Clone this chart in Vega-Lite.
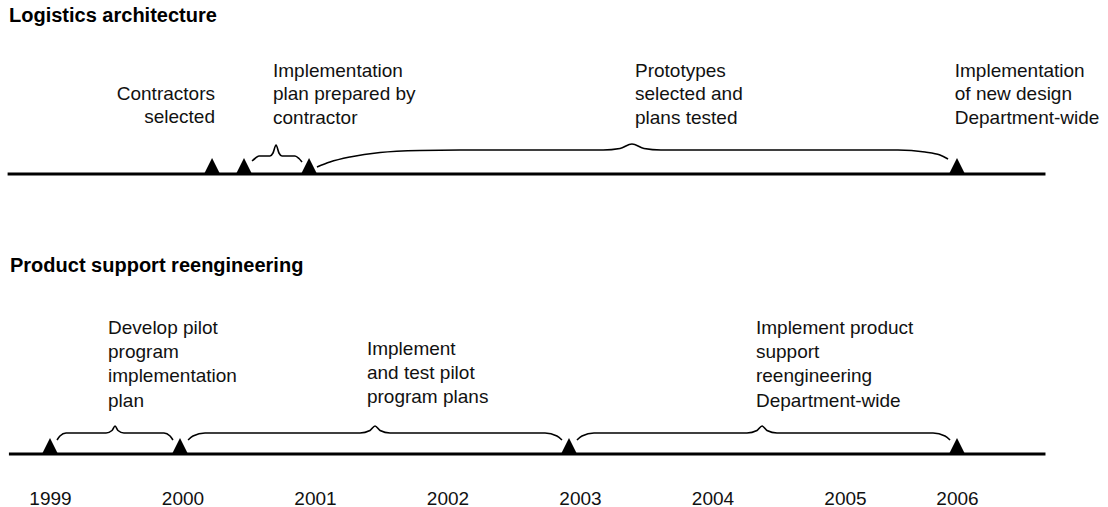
{
  "$schema": "https://vega.github.io/schema/vega-lite/v6.json",
  "padding": {"left": 0, "right": 0, "top": 6, "bottom": 0},
  "background": "white",
  "spacing": 76,
  "config": {"view": {"stroke": null}, "font": "Liberation Sans"},
  "resolve": {"scale": {"x": "independent", "y": "independent"}},
  "vconcat": [
    {
      "width": 1108,
      "height": 150,
      "title": {"text": "Logistics architecture", "anchor": "start", "dx": 9, "fontSize": 20, "fontWeight": "bold", "font": "Liberation Sans", "color": "black", "offset": 4},
      "layer": [
        {
          "data": {"values": [{"t0": 1998.68, "t1": 2006.79, "h": 0}]},
          "mark": {"type": "rule", "strokeWidth": 3, "color": "black"},
          "encoding": {
            "x": {"field": "t0", "type": "quantitative", "scale": {"type": "linear", "domain": [1999, 2005, 2006], "range": [50, 845, 957], "zero": false, "nice": false}, "axis": null},
            "x2": {"field": "t1"},
            "y": {"field": "h", "type": "quantitative", "scale": {"domain": [-6, 144], "nice": false, "zero": false}, "axis": null}
          }
        },
        {
          "data": {"values": [
            {"brace": "A", "t": 2000.525, "h": 13}, {"brace": "A", "t": 2000.547, "h": 15.5}, {"brace": "A", "t": 2000.577, "h": 18}, {"brace": "A", "t": 2000.660, "h": 18}, {"brace": "A", "t": 2000.683, "h": 21}, {"brace": "A", "t": 2000.706, "h": 29}, {"brace": "A", "t": 2000.728, "h": 21}, {"brace": "A", "t": 2000.751, "h": 18}, {"brace": "A", "t": 2000.849, "h": 18}, {"brace": "A", "t": 2000.879, "h": 15.5}, {"brace": "A", "t": 2000.902, "h": 12},
            {"brace": "B", "t": 2001.015, "h": 7}, {"brace": "B", "t": 2001.113, "h": 12}, {"brace": "B", "t": 2001.264, "h": 17}, {"brace": "B", "t": 2001.491, "h": 21.5}, {"brace": "B", "t": 2001.792, "h": 23.5}, {"brace": "B", "t": 2002.094, "h": 24}, {"brace": "B", "t": 2003.174, "h": 24}, {"brace": "B", "t": 2003.302, "h": 25.5}, {"brace": "B", "t": 2003.392, "h": 30}, {"brace": "B", "t": 2003.483, "h": 25.5}, {"brace": "B", "t": 2003.611, "h": 24}, {"brace": "B", "t": 2005.473, "h": 24}, {"brace": "B", "t": 2005.714, "h": 22}, {"brace": "B", "t": 2005.848, "h": 19}, {"brace": "B", "t": 2005.92, "h": 15}
          ]},
          "mark": {"type": "line", "interpolate": "monotone", "strokeWidth": 1.6, "color": "black"},
          "encoding": {
            "x": {"field": "t", "type": "quantitative", "axis": null},
            "y": {"field": "h", "type": "quantitative", "axis": null},
            "detail": {"field": "brace"}
          }
        },
        {
          "data": {"values": [{"t": 2000.223, "h": 0}, {"t": 2000.464, "h": 0}, {"t": 2000.955, "h": 0}, {"t": 2006.0, "h": 0}]},
          "mark": {"type": "point", "shape": "M0,-2L-1,0L1,0Z", "size": 256, "filled": true, "color": "black", "opacity": 1, "strokeWidth": 0},
          "encoding": {
            "x": {"field": "t", "type": "quantitative", "axis": null},
            "y": {"field": "h", "type": "quantitative", "axis": null}
          }
        },
        {
          "data": {"values": [
            {"t": 2000.683, "h": 93.2, "label": "Implementation\nplan prepared by\ncontractor"},
            {"t": 2003.415, "h": 93.2, "label": "Prototypes\nselected and\nplans tested"},
            {"t": 2005.98, "h": 93.2, "label": "Implementation\nof new design\nDepartment-wide"}
          ]},
          "mark": {"type": "text", "align": "left", "baseline": "bottom", "lineBreak": "\n", "lineHeight": 23.5, "fontSize": 19, "font": "Liberation Sans", "color": "#111"},
          "encoding": {
            "x": {"field": "t", "type": "quantitative", "axis": null},
            "y": {"field": "h", "type": "quantitative", "axis": null},
            "text": {"field": "label"}
          }
        },
        {
          "data": {"values": [{"t": 2000.245, "h": 70.2, "label": "Contractors\nselected"}]},
          "mark": {"type": "text", "align": "right", "baseline": "bottom", "lineBreak": "\n", "lineHeight": 23.5, "fontSize": 19, "font": "Liberation Sans", "color": "#111"},
          "encoding": {
            "x": {"field": "t", "type": "quantitative", "axis": null},
            "y": {"field": "h", "type": "quantitative", "axis": null},
            "text": {"field": "label"}
          }
        }
      ]
    },
    {
      "width": 1108,
      "height": 180,
      "title": {"text": "Product support reengineering", "anchor": "start", "dx": 10, "fontSize": 20, "fontWeight": "bold", "font": "Liberation Sans", "color": "black", "offset": 4},
      "layer": [
        {
          "data": {"values": [{"t0": 1998.69, "t1": 2006.79, "h": 0}]},
          "mark": {"type": "rule", "strokeWidth": 3, "color": "black"},
          "encoding": {
            "x": {"field": "t0", "type": "quantitative", "scale": {"type": "linear", "domain": [1999, 2005, 2006], "range": [50, 845, 957], "zero": false, "nice": false},
              "axis": {"values": [1999, 2000, 2001, 2002, 2003, 2004, 2005, 2006], "format": "d", "domain": false, "ticks": false, "tickSize": 0, "grid": false, "labelFontSize": 19, "labelFont": "Liberation Sans", "labelColor": "#111", "labelPadding": 29, "labelFlush": false, "labelOverlap": false, "title": null}},
            "x2": {"field": "t1"},
            "y": {"field": "h", "type": "quantitative", "scale": {"domain": [-6, 174], "nice": false, "zero": false}, "axis": null}
          }
        },
        {
          "data": {"values": [
            {"brace": "C", "t": 1999.053, "h": 14}, {"brace": "C", "t": 1999.075, "h": 18}, {"brace": "C", "t": 1999.121, "h": 21}, {"brace": "C", "t": 1999.423, "h": 21}, {"brace": "C", "t": 1999.468, "h": 23.5}, {"brace": "C", "t": 1999.491, "h": 28}, {"brace": "C", "t": 1999.513, "h": 23.5}, {"brace": "C", "t": 1999.558, "h": 21}, {"brace": "C", "t": 1999.860, "h": 21}, {"brace": "C", "t": 1999.906, "h": 18}, {"brace": "C", "t": 1999.928, "h": 14},
            {"brace": "D", "t": 2000.042, "h": 14}, {"brace": "D", "t": 2000.079, "h": 18}, {"brace": "D", "t": 2000.170, "h": 21}, {"brace": "D", "t": 2001.340, "h": 21}, {"brace": "D", "t": 2001.415, "h": 23.5}, {"brace": "D", "t": 2001.453, "h": 28}, {"brace": "D", "t": 2001.491, "h": 23.5}, {"brace": "D", "t": 2001.566, "h": 21}, {"brace": "D", "t": 2002.736, "h": 21}, {"brace": "D", "t": 2002.826, "h": 18}, {"brace": "D", "t": 2002.864, "h": 14},
            {"brace": "E", "t": 2002.977, "h": 14}, {"brace": "E", "t": 2003.015, "h": 18}, {"brace": "E", "t": 2003.106, "h": 21}, {"brace": "E", "t": 2004.260, "h": 21}, {"brace": "E", "t": 2004.336, "h": 23.5}, {"brace": "E", "t": 2004.374, "h": 28}, {"brace": "E", "t": 2004.411, "h": 23.5}, {"brace": "E", "t": 2004.487, "h": 21}, {"brace": "E", "t": 2005.786, "h": 21}, {"brace": "E", "t": 2005.893, "h": 18}, {"brace": "E", "t": 2005.938, "h": 14}
          ]},
          "mark": {"type": "line", "interpolate": "monotone", "strokeWidth": 1.6, "color": "black"},
          "encoding": {
            "x": {"field": "t", "type": "quantitative"},
            "y": {"field": "h", "type": "quantitative", "axis": null},
            "detail": {"field": "brace"}
          }
        },
        {
          "data": {"values": [{"t": 1999.0, "h": 0}, {"t": 1999.981, "h": 0}, {"t": 2002.917, "h": 0}, {"t": 2006.0, "h": 0}]},
          "mark": {"type": "point", "shape": "M0,-2L-1,0L1,0Z", "size": 256, "filled": true, "color": "black", "opacity": 1, "strokeWidth": 0},
          "encoding": {
            "x": {"field": "t", "type": "quantitative"},
            "y": {"field": "h", "type": "quantitative", "axis": null}
          }
        },
        {
          "data": {"values": [
            {"t": 1999.438, "h": 116.2, "label": "Develop pilot\nprogram\nimplementation\nplan"},
            {"t": 2001.392, "h": 95.2, "label": "Implement\nand test pilot\nprogram plans"},
            {"t": 2004.328, "h": 116.2, "label": "Implement product\nsupport\nreengineering\nDepartment-wide"}
          ]},
          "mark": {"type": "text", "align": "left", "baseline": "bottom", "lineBreak": "\n", "lineHeight": 24.3, "fontSize": 19, "font": "Liberation Sans", "color": "#111"},
          "encoding": {
            "x": {"field": "t", "type": "quantitative"},
            "y": {"field": "h", "type": "quantitative", "axis": null},
            "text": {"field": "label"}
          }
        }
      ]
    }
  ]
}
